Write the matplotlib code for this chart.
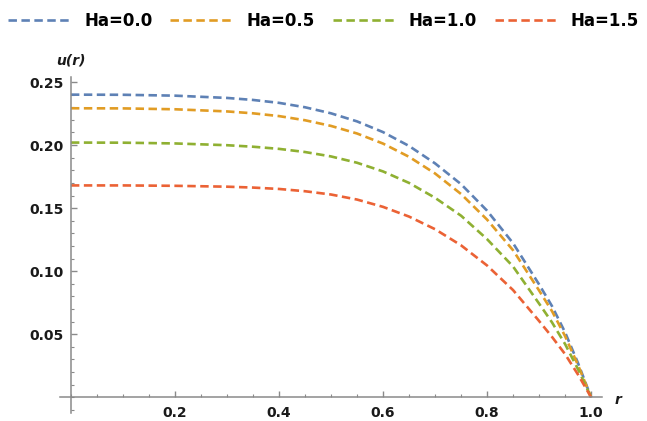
import matplotlib
matplotlib.use("Agg")
import matplotlib.pyplot as plt
from matplotlib.ticker import MultipleLocator, FixedLocator

plt.rcParams["font.family"] = ["DejaVu Sans"]
plt.rcParams["font.weight"] = "bold"

# velocity profiles u(r) for several Hartmann numbers
r = [0.0, 0.1, 0.2, 0.3, 0.35, 0.4, 0.45, 0.5, 0.55, 0.6, 0.65, 0.7, 0.75, 0.8,
     0.85, 0.9, 0.925, 0.95, 0.975, 1.0]
u_ha00 = [0.2400, 0.2399, 0.2392, 0.2374, 0.2358, 0.2335, 0.2300, 0.2252, 0.2188, 0.2103,
          0.1993, 0.1855, 0.1690, 0.1480, 0.1222, 0.0895, 0.0722, 0.0515, 0.0270, 0.0]
u_ha05 = [0.2292, 0.2291, 0.2284, 0.2267, 0.2252, 0.2230, 0.2197, 0.2152, 0.2092, 0.2012,
          0.1907, 0.1775, 0.1612, 0.1409, 0.1166, 0.0847, 0.0682, 0.0485, 0.0254, 0.0]
u_ha10 = [0.2020, 0.2019, 0.2013, 0.1999, 0.1987, 0.1970, 0.1945, 0.1910, 0.1860, 0.1791,
          0.1700, 0.1582, 0.1440, 0.1254, 0.1037, 0.0743, 0.0593, 0.0422, 0.0221, 0.0]
u_ha15 = [0.1680, 0.1680, 0.1677, 0.1670, 0.1663, 0.1652, 0.1634, 0.1608, 0.1568, 0.1510,
          0.1433, 0.1333, 0.1205, 0.1045, 0.0850, 0.0605, 0.0478, 0.0342, 0.0179, 0.0]

labels = ["Ha=0.0", "Ha=0.5", "Ha=1.0", "Ha=1.5"]
colors = ["#5E81B5", "#E19C24", "#8FB032", "#EB6235"]
series = [u_ha00, u_ha05, u_ha10, u_ha15]

fig = plt.figure(figsize=(6.47, 4.21), dpi=100)
ax = fig.add_axes([60 / 647, 8 / 421, 542 / 647, 336 / 421])

for u, lab, c in zip(series, labels, colors):
    ax.plot(r, u, color=c, lw=1.9, ls=(0, (3.2, 1.7)), label=lab)

ax.set_xlim(-0.021, 1.021)
ax.set_ylim(-0.0125, 0.254)

# axes drawn through the origin
for side in ("top", "right"):
    ax.spines[side].set_visible(False)
ax.spines["left"].set_position(("data", 0))
ax.spines["bottom"].set_position(("data", 0))
for side in ("left", "bottom"):
    ax.spines[side].set_color("#8a8a8a")
    ax.spines[side].set_linewidth(1.1)

ax.xaxis.set_major_locator(FixedLocator([0.2, 0.4, 0.6, 0.8, 1.0]))
ax.xaxis.set_minor_locator(MultipleLocator(0.05))
ax.yaxis.set_major_locator(FixedLocator([0.05, 0.10, 0.15, 0.20, 0.25]))
ax.yaxis.set_minor_locator(MultipleLocator(0.01))
ax.xaxis.set_major_formatter(plt.FuncFormatter(lambda v, p: f"{v:.1f}"))
ax.yaxis.set_major_formatter(plt.FuncFormatter(lambda v, p: f"{v:.2f}"))

ax.tick_params(which="major", direction="in", length=4, width=1, color="#8a8a8a",
               labelsize=10, labelcolor="#1a1a1a")
ax.tick_params(which="minor", direction="in", length=2.2, width=0.8, color="#8a8a8a")
ax.tick_params(axis="x", which="major", pad=6)
ax.tick_params(axis="y", which="major", pad=5)

ax.text(0.0, 0.267, "u(r)", ha="center", va="center", fontsize=10,
        fontstyle="italic", color="#1a1a1a", clip_on=False)
ax.text(1.052, -0.002, "r", ha="center", va="center", fontsize=10,
        fontstyle="italic", color="#1a1a1a", clip_on=False)

fig.legend(loc="center", bbox_to_anchor=(0.5, 1 - 21 / 421), ncol=4, frameon=False,
           fontsize=12, handlelength=3.66, handletextpad=0.9, columnspacing=1.08,
           borderaxespad=0.0)

fig.savefig("out.png", dpi=100)
